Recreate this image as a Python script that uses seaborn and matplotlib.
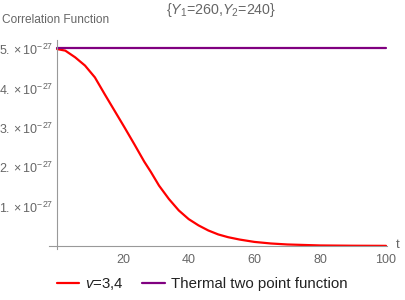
import matplotlib
matplotlib.use("Agg")
import matplotlib.pyplot as plt
import matplotlib.ticker as mticker
import seaborn as sns
import pandas as pd

# valores
t_vals = [0, 2.5, 5.5, 8.5, 11.5, 14.5, 17.5, 20.5, 23.5, 26.5, 28.5, 31, 34, 37,
          40, 43, 46, 49, 52, 55.5, 60, 65, 70, 80, 90, 100]
corr_vals = [5.0, 4.96, 4.79, 4.58, 4.28, 3.85, 3.43, 3.01, 2.58, 2.14, 1.88, 1.53,
             1.19, 0.90, 0.68, 0.52, 0.39, 0.29, 0.22, 0.16, 0.10, 0.06, 0.035,
             0.01, 0.003, 0.0]
thermal_t = [0, 100]
thermal_vals = [5.02, 5.02]
scale = 1e-27

y_ticks = [1, 2, 3, 4, 5]
y_labels = [r"$1.\times10^{-27}$", r"$2.\times10^{-27}$", r"$3.\times10^{-27}$",
            r"$4.\times10^{-27}$", r"$5.\times10^{-27}$"]
x_ticks = [20, 40, 60, 80, 100]

sns.set_style("white")
plt.rcParams['font.family'] = ['Liberation Sans', 'DejaVu Sans']
plt.rcParams['mathtext.fontset'] = 'custom'
plt.rcParams['mathtext.rm'] = 'Liberation Sans'
plt.rcParams['mathtext.it'] = 'Liberation Sans:italic'

gray_txt = '#666666'
gray_ax = '#999999'

df_red = pd.DataFrame({'t': t_vals, 'C': [v * scale for v in corr_vals]})
df_th = pd.DataFrame({'t': thermal_t, 'C': [v * scale for v in thermal_vals]})

fig = plt.figure(figsize=(4.06, 3.00), dpi=100)
ax = fig.add_axes([49 / 406, 1 - 249 / 300, (387 - 49) / 406, (249 - 40) / 300])

sns.lineplot(data=df_red, x='t', y='C', color='#ff0000', lw=1.6, ax=ax, label=r"$v$=3,4")
sns.lineplot(data=df_th, x='t', y='C', color='#800080', lw=1.6, ax=ax,
             label="Thermal two point function")

ax.set_xlim(-2.45, 100.3)
ax.set_ylim(-0.08e-27, 5.23e-27)

for s in ['top', 'right']:
    ax.spines[s].set_visible(False)
ax.spines['left'].set_position(('data', 0))
ax.spines['bottom'].set_position(('data', 0))
for s in ['left', 'bottom']:
    ax.spines[s].set_color(gray_ax)
    ax.spines[s].set_linewidth(0.8)

ax.set_xticks(x_ticks)
ax.set_xticks(range(5, 101, 5), minor=True)
ax.set_yticks([v * scale for v in y_ticks])
ax.set_yticklabels(y_labels)
ax.yaxis.set_minor_locator(mticker.MultipleLocator(0.2e-27))
ax.tick_params(axis='both', which='major', direction='in', length=4, width=0.7,
               color=gray_ax, labelcolor=gray_txt, labelsize=9, pad=3)
ax.tick_params(axis='both', which='minor', direction='in', length=2, width=0.6,
               color=gray_ax)
ax.tick_params(axis='x', pad=6)
ax.set_xlabel('')
ax.set_ylabel('')

fig.text(2 / 406, 1 - 20 / 300, "Correlation Function", color=gray_txt, fontsize=8.6,
         ha='left', va='center')
fig.text(398 / 406, 1 - 245 / 300, "t", color=gray_txt, fontsize=9.5, ha='center', va='center')
fig.text(221 / 406, 1 - 10 / 300, r"{$Y_1$=260,$Y_2$=240}", color=gray_txt, fontsize=10.3,
         ha='center', va='center')

ax.get_legend().remove()
h, l = ax.get_legend_handles_labels()
fig.legend(h, l, loc='center', bbox_to_anchor=(202 / 406, 1 - 284 / 300), ncol=2,
           frameon=False, fontsize=10.8, handlelength=1.5, handletextpad=0.4,
           columnspacing=1.2, labelcolor='#222222')

fig.savefig('out.png', dpi=100)
